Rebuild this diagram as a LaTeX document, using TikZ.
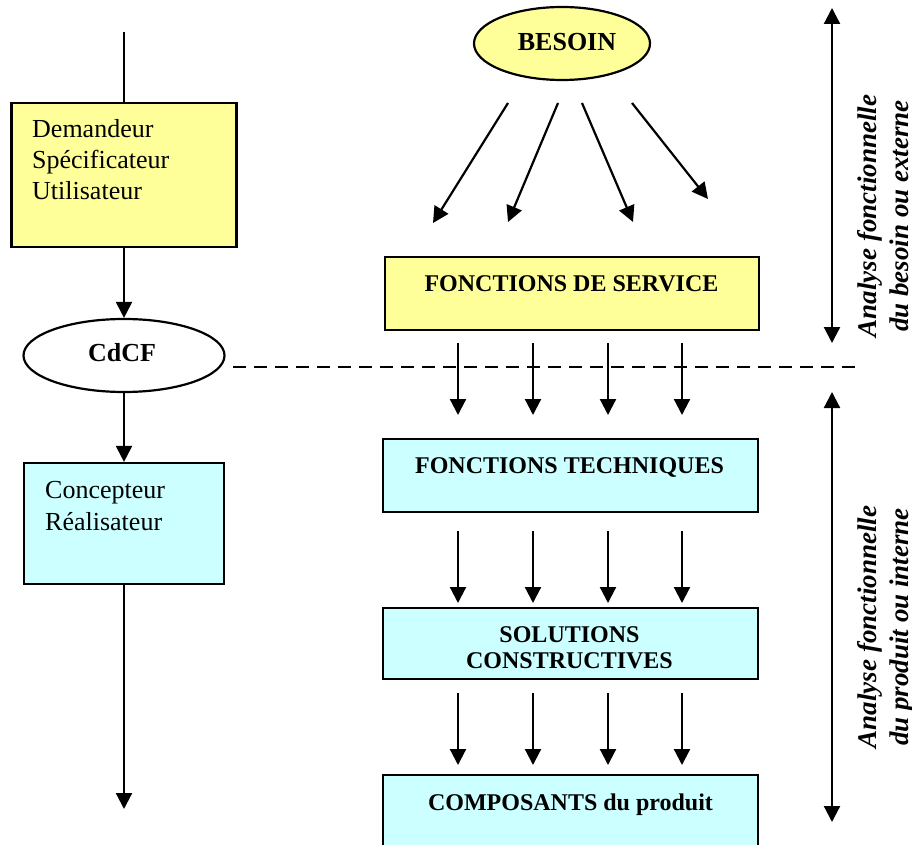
\documentclass[tikz,border=0pt]{standalone}
\usepackage{fontspec}
\setmainfont{Liberation Serif}
\usetikzlibrary{arrows.meta,shapes.geometric}
\definecolor{boxyellow}{HTML}{FFFF99}
\definecolor{boxcyan}{HTML}{CCFFFF}
\tikzset{
  ln/.style={line width=2.2pt},
  tip/.tip={Triangle[length=16pt,width=16pt]},
  arr/.style={ln,-tip},
  darr/.style={ln,tip-tip},
  box/.style={draw,line width=2.2pt,rectangle,inner sep=0pt},
  ybox/.style={box,fill=boxyellow},
  cbox/.style={box,fill=boxcyan},
  ell/.style={draw,line width=2.2pt,ellipse,inner sep=0pt,minimum width=#1,minimum height=73pt},
  rtxt/.style={font=\fontsize{26}{31}\selectfont,anchor=base west,inner sep=0pt},
  btxt/.style={font=\fontsize{24}{28}\selectfont\bfseries,anchor=base,inner sep=0pt},
  etxt/.style={font=\fontsize{26}{30}\selectfont\bfseries,anchor=base,inner sep=0pt},
  vtxt/.style={font=\fontsize{27}{32}\selectfont\bfseries\itshape,anchor=base,rotate=90,inner sep=0pt},
  dsh/.style={line width=2pt,dash pattern=on 13pt off 8pt}
}
\begin{document}
\begin{tikzpicture}[x=1pt,y=-1pt]
\useasboundingbox (0,0) rectangle (912,845);
% left column
\node[ybox,minimum width=225pt,minimum height=144pt] (dem) at (124,175) {};
\node[rtxt] (dem1) at (32,138) {Demandeur};
\node[rtxt] (dem2) at (32,169) {Spécificateur};
\node[rtxt] (dem3) at (32,200) {Utilisateur};
\node[ell=201pt,fill=white] (cdcf) at (124,355.5) {};
\node[etxt] (cdcft) at (122,361) {CdCF};
\node[cbox,minimum width=200pt,minimum height=121pt] (conc) at (124,523.5) {};
\node[rtxt] (conc1) at (45,498) {Concepteur};
\node[rtxt] (conc2) at (45,530) {Réalisateur};
\coordinate (ltop) at (124,32);
\coordinate (lend) at (124,809);
\draw[ln] (ltop) -- (dem.north);
\draw[arr] (dem.south) -- (cdcf.north);
\draw[arr] (cdcf.south) -- (conc.north);
\draw[arr] (conc.south) -- (lend);
% right column
\node[ell=176pt,fill=boxyellow] (besoin) at (562,43.5) {};
\node[etxt] (besoint) at (567,51) {BESOIN};
\node[ybox,minimum width=374pt,minimum height=73pt] (fds) at (572,293.5) {};
\node[btxt] (fdst) at (571.5,291) {FONCTIONS DE SERVICE};
\node[cbox,minimum width=375pt,minimum height=73pt] (ft) at (570.5,475.5) {};
\node[btxt] (ftt) at (569.5,473) {FONCTIONS TECHNIQUES};
\node[cbox,minimum width=375pt,minimum height=71pt] (sc) at (570.5,643.5) {};
\node[btxt] (sct1) at (569.5,642) {SOLUTIONS};
\node[btxt] (sct2) at (569.5,668) {CONSTRUCTIVES};
\node[cbox,minimum width=375pt,minimum height=85pt] (comp) at (570.5,817.5) {};
\node[btxt] (compt) at (570.5,810) {COMPOSANTS du produit};
% besoin arrows
\coordinate (b1s) at (508,103); \coordinate (b1e) at (433,223);
\coordinate (b2s) at (558,103); \coordinate (b2e) at (508,222);
\coordinate (b3s) at (582,103); \coordinate (b3e) at (633,222);
\coordinate (b4s) at (632,103); \coordinate (b4e) at (708,199);
\foreach \i in {1,2,3,4} { \draw[arr] (b\i s) -- (b\i e); }
% vertical arrow rows
\foreach \x [count=\i] in {458,533,608,682} {
  \coordinate (ra\i) at (\x,343); \coordinate (rb\i) at (\x,415);
  \coordinate (rc\i) at (\x,531); \coordinate (rd\i) at (\x,603);
  \coordinate (re\i) at (\x,693); \coordinate (rf\i) at (\x,765);
  \draw[arr] (ra\i) -- (rb\i);
  \draw[arr] (rc\i) -- (rd\i);
  \draw[arr] (re\i) -- (rf\i);
}
% dashed separator
\coordinate (dstart) at (233,367);
\coordinate (dend) at (857,367);
\draw[dsh] (dstart) -- (dend);
% right double arrows and labels
\coordinate (a1t) at (832,8); \coordinate (a1b) at (832,343);
\coordinate (a2t) at (832,392); \coordinate (a2b) at (832,822);
\draw[darr] (a1t) -- (a1b);
\draw[darr] (a2t) -- (a2b);
\node[vtxt] (v1a) at (876,216) {Analyse fonctionnelle};
\node[vtxt] (v1b) at (908,216) {du besoin ou externe};
\node[vtxt] (v2a) at (876,627) {Analyse fonctionnelle};
\node[vtxt] (v2b) at (908,627) {du produit ou interne};
\end{tikzpicture}
\end{document}
